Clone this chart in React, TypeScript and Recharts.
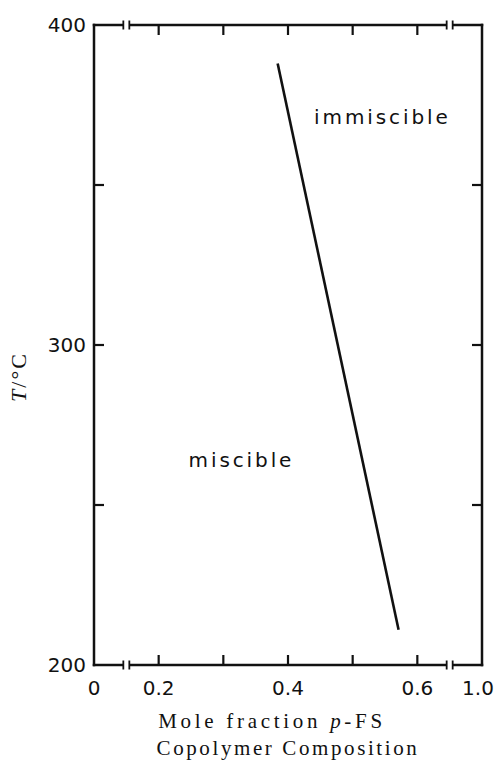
import { LineChart, Line, XAxis, YAxis, ReferenceDot } from 'recharts';

// boundary between the miscible and immiscible regions
const boundaryFraction = [0.384, 0.571];
const boundaryTemp = [388, 211];

// region captions, placed in data coordinates
const regionNames = ['immiscible', 'miscible'];
const regionFraction = [0.546, 0.328];
const regionTemp = [369, 262];

// broken x axis: "0" and "1.0" sit just outside the 0.2–0.6 stretch
const xTickValues = [0.1, 0.15, 0.2, 0.3, 0.4, 0.5, 0.6, 0.65, 0.7];
const xTickLabels = ['0', '', '0.2', '', '0.4', '', '0.6', '', '1.0'];
const xBreaks = [0.15, 0.65];
const xEnds = [0.1, 0.7];

const yTickValues = [200, 250, 300, 350, 400];
const yTickLabels = ['200', '', '300', '', '400'];

const data = boundaryFraction.map((x, i) => ({ x, t: boundaryTemp[i] }));

const INK = '#111';
const SANS = '"DejaVu Sans", sans-serif';
const SERIF = '"Liberation Serif", "DejaVu Serif", serif';
const TICK_LEN = 10;

function XTick(props: any) {
  const { x, y, payload, top } = props;
  const v = payload.value;
  const i = xTickValues.indexOf(v);
  const dir = top ? 1 : -1;
  if (xBreaks.includes(v)) {
    return (
      <g>
        <rect x={x - 3} y={y - 3} width={6} height={6} fill="#fff" />
        <line x1={x - 3} x2={x - 3} y1={y - 4.5} y2={y + 4.5} stroke={INK} strokeWidth={1.8} />
        <line x1={x + 3} x2={x + 3} y1={y - 4.5} y2={y + 4.5} stroke={INK} strokeWidth={1.8} />
      </g>
    );
  }
  const isEnd = xEnds.includes(v);
  // the last label is nudged left so it stays on the page
  const dx = v === xEnds[1] ? -4 : 0;
  return (
    <g>
      {!isEnd && (
        <line x1={x} x2={x} y1={y} y2={y + dir * TICK_LEN} stroke={INK} strokeWidth={2.2} />
      )}
      {!top && xTickLabels[i] && (
        <text x={x + dx} y={y + 30} textAnchor="middle" fontFamily={SANS} fontSize={20} fill={INK}>
          {xTickLabels[i]}
        </text>
      )}
    </g>
  );
}

function YTick(props: any) {
  const { x, y, payload, right } = props;
  const v = payload.value;
  const i = yTickValues.indexOf(v);
  const dir = right ? -1 : 1;
  const isEnd = v === yTickValues[0] || v === yTickValues[yTickValues.length - 1];
  return (
    <g>
      {!isEnd && (
        <line x1={x} x2={x + dir * TICK_LEN} y1={y} y2={y} stroke={INK} strokeWidth={2.2} />
      )}
      {!right && yTickLabels[i] && (
        <text x={x - 8} y={y + 7} textAnchor="end" fontFamily={SANS} fontSize={20} fill={INK}>
          {yTickLabels[i]}
        </text>
      )}
    </g>
  );
}

const axisLine = { stroke: INK, strokeWidth: 2.5, strokeLinecap: 'square' as const };

export default function App() {
  return (
    <div style={{ position: 'absolute', left: 0, top: 0, width: 497, height: 764, background: '#fff' }}>
      <LineChart width={497} height={764} data={data} margin={{ top: 24, right: 14, bottom: 98, left: 93 }}>
        <XAxis
          dataKey="x"
          type="number"
          domain={[xEnds[0], xEnds[1]]}
          allowDataOverflow
          ticks={xTickValues}
          interval={0}
          height={1}
          tickSize={0}
          tickMargin={0}
          tickLine={false}
          axisLine={axisLine}
          tick={(p: any) => <XTick {...p} />}
          label={{
            content: ({ viewBox }: any) => (
              <g fontFamily={SERIF} fontSize={21} fill={INK}>
                <text x={viewBox.x + viewBox.width / 2 - 16} y={viewBox.y + 63} textAnchor="middle" letterSpacing={3.7}>
                  Mole fraction <tspan fontStyle="italic">p</tspan>-FS
                </text>
                <text x={viewBox.x + viewBox.width / 2} y={viewBox.y + 90} textAnchor="middle" letterSpacing={2.6}>
                  Copolymer Composition
                </text>
              </g>
            ),
          }}
        />
        <XAxis
          xAxisId="top"
          orientation="top"
          dataKey="x"
          type="number"
          domain={[xEnds[0], xEnds[1]]}
          allowDataOverflow
          ticks={xTickValues}
          interval={0}
          height={1}
          tickSize={0}
          tickMargin={0}
          tickLine={false}
          axisLine={axisLine}
          tick={(p: any) => <XTick {...p} top />}
        />
        <YAxis
          type="number"
          domain={[200, 400]}
          allowDataOverflow
          ticks={yTickValues}
          interval={0}
          width={1}
          tickSize={0}
          tickMargin={0}
          tickLine={false}
          axisLine={axisLine}
          tick={(p: any) => <YTick {...p} />}
          label={{
            content: ({ viewBox }: any) => {
              const cx = viewBox.x - 67;
              const cy = viewBox.y + 352;
              return (
                <text
                  x={cx}
                  y={cy}
                  transform={`rotate(-90 ${cx} ${cy})`}
                  textAnchor="middle"
                  fontFamily={SERIF}
                  fontSize={22}
                  letterSpacing={2}
                  fill={INK}
                >
                  <tspan fontStyle="italic">T</tspan>/°C
                </text>
              );
            },
          }}
        />
        <YAxis
          yAxisId="right"
          orientation="right"
          type="number"
          domain={[200, 400]}
          allowDataOverflow
          ticks={yTickValues}
          interval={0}
          width={1}
          tickSize={0}
          tickMargin={0}
          tickLine={false}
          axisLine={axisLine}
          tick={(p: any) => <YTick {...p} right />}
        />
        <Line
          dataKey="t"
          type="linear"
          stroke={INK}
          strokeWidth={2.6}
          dot={false}
          activeDot={false}
          isAnimationActive={false}
        />
        {regionNames.map((name, i) => (
          <ReferenceDot
            key={name}
            x={regionFraction[i]}
            y={regionTemp[i]}
            r={0}
            shape={(p: any) => (
              <text
                x={p.cx}
                y={p.cy}
                textAnchor="middle"
                fontFamily={SANS}
                fontSize={20}
                letterSpacing={2.9}
                fill={INK}
              >
                {name}
              </text>
            )}
          />
        ))}
      </LineChart>
    </div>
  );
}
